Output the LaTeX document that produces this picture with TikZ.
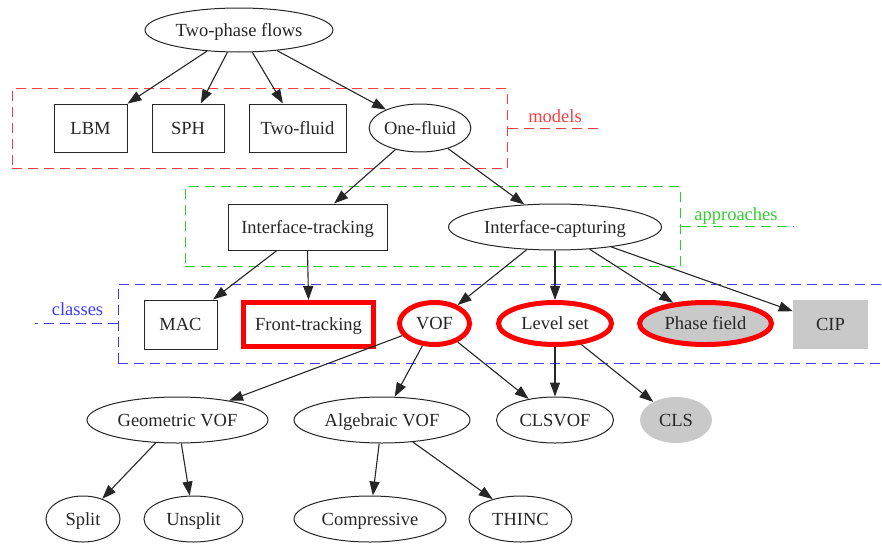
\documentclass[tikz,border=0pt]{standalone}
\usepackage{fontspec}
\setmainfont{Liberation Serif}
\usetikzlibrary{shapes.geometric,arrows.meta}
\definecolor{mred}{RGB}{255,60,60}
\definecolor{mgreen}{RGB}{50,205,50}
\definecolor{mblue}{RGB}{60,60,255}
\begin{document}
\begin{tikzpicture}[x=1pt,y=-1pt,
  every node/.style={font=\fontsize{18.5}{22}\selectfont, inner sep=0pt, text=black!85, text height=12.5pt, text depth=0pt},
  ell/.style={ellipse, draw=black!85, line width=1pt},
  box/.style={rectangle, draw=black!85, line width=1pt},
  hot/.style={draw=red, line width=5pt},
  gfill/.style={fill=black!21},
  edge/.style={draw=black!85, line width=1.1pt, -{Triangle[length=14pt,width=10pt]}},
  grp/.style={rectangle, dash pattern=on 10pt off 6pt, line width=1pt},
  grpline/.style={dash pattern=on 10pt off 6pt, line width=1pt},
  lab/.style={anchor=base, text height=, text depth=},
]
\useasboundingbox (0,0) rectangle (882,546);

% groups
\node[grp, draw=mred, minimum width=495, minimum height=80] (gm) at (259.5,128.5) {};
\node[grp, draw=mgreen, minimum width=495, minimum height=80] (gg) at (432.5,226.5) {};
\node[grp, draw=mblue, minimum width=766, minimum height=79] (gb) at (501,323.5) {};

\coordinate (gmend) at (600,128.5);
\coordinate (ggend) at (794,226.5);
\coordinate (gbend) at (35,323.5);
\draw[grpline, mred] (gm.east) -- (gmend);
\draw[grpline, mgreen] (gg.east) -- (ggend);
\draw[grpline, mblue] (gb.west) -- (gbend);
\node[lab, text=mred] (lm) at (555,122) {models};
\node[lab, text=mgreen] (lg) at (736,220) {approaches};
\node[lab, text=mblue] (lb) at (77.5,315) {classes};

% nodes
\node[ell, minimum width=188, minimum height=44] (tpf) at (239,30) {Two-phase flows};
\node[box, minimum width=73, minimum height=48] (lbm) at (90.5,128) {LBM};
\node[box, minimum width=72, minimum height=48] (sph) at (188,128) {SPH};
\node[box, minimum width=97, minimum height=48] (twof) at (297.5,128) {Two-fluid};
\node[ell, minimum width=96, minimum height=48] (onef) at (420,128) {One-fluid};
\node[box, minimum width=159, minimum height=46] (itr) at (307.5,227) {Interface-tracking};
\node[ell, minimum width=213, minimum height=46] (icap) at (555,227) {Interface-capturing};
\node[box, minimum width=73, minimum height=49] (mac) at (180.5,324.5) {MAC};
\node[rectangle, hot, minimum width=130, minimum height=44] (ft) at (308.5,324.5) {Front-tracking};
\node[ellipse, hot, minimum width=70, minimum height=42] (vof) at (434.5,323.5) {VOF};
\node[ellipse, hot, minimum width=113, minimum height=42] (ls) at (555,323.5) {Level set};
\node[ellipse, hot, gfill, minimum width=132, minimum height=42] (pf) at (705.5,323.5) {Phase field};
\node[rectangle, gfill, minimum width=75, minimum height=49] (cip) at (830.5,324.5) {CIP};
\node[ell, minimum width=181, minimum height=46] (gvof) at (177.5,420) {Geometric VOF};
\node[ell, minimum width=176, minimum height=46] (avof) at (382,420) {Algebraic VOF};
\node[ell, minimum width=117, minimum height=46] (clsvof) at (555,420) {CLSVOF};
\node[ellipse, gfill, minimum width=72, minimum height=46] (cls) at (676,420) {CLS};
\node[ell, minimum width=74, minimum height=46] (split) at (83,519) {Split};
\node[ell, minimum width=99, minimum height=46] (unsplit) at (193.5,519) {Unsplit};
\node[ell, minimum width=152, minimum height=46] (comp) at (370,519) {Compressive};
\node[ell, minimum width=103, minimum height=46] (thinc) at (520.5,519) {THINC};

% edges
\draw[edge] (tpf) -- (lbm);
\draw[edge] (tpf) -- (sph);
\draw[edge] (tpf) -- (twof);
\draw[edge] (tpf) -- (onef);
\draw[edge] (onef) -- (itr);
\draw[edge] (onef) -- (icap);
\draw[edge] (itr) -- (mac);
\draw[edge] (itr.south) -- (ft.north);
\draw[edge] (icap) -- (vof);
\draw[edge] (icap.south) -- (ls.north);
\draw[edge] (icap) -- (pf);
\draw[edge] (icap) -- (cip);
\draw[edge] (vof) -- (gvof);
\draw[edge] (vof) -- (avof);
\draw[edge] (vof) -- (clsvof);
\draw[edge] (ls.south) -- (clsvof.north);
\draw[edge] (ls) -- (cls);
\draw[edge] (gvof) -- (split);
\draw[edge] (gvof) -- (unsplit);
\draw[edge] (avof) -- (comp);
\draw[edge] (avof) -- (thinc);
\end{tikzpicture}
\end{document}
